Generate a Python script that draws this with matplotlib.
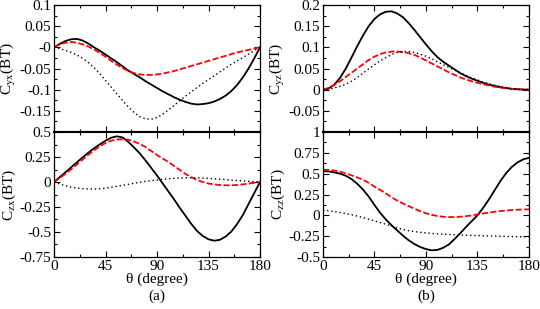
import numpy as np
import matplotlib
matplotlib.use("Agg")
import matplotlib.pyplot as plt
from matplotlib.ticker import MultipleLocator, FixedLocator

plt.rcParams['font.family'] = ['Liberation Serif', 'DejaVu Serif']
plt.rcParams['mathtext.fontset'] = 'stix'
plt.rcParams['font.size'] = 11

theta = np.arange(0, 181, 5)

# (a) top: C_yx
cyx_solid = [0, 0.008, 0.015, 0.019, 0.020, 0.016, 0.009, 0.0, -0.008, -0.017,
             -0.026, -0.035, -0.045, -0.055, -0.063, -0.071, -0.080, -0.088, -0.096,
             -0.104, -0.111, -0.118, -0.124, -0.129, -0.133, -0.135, -0.134, -0.132,
             -0.128, -0.122, -0.114, -0.103, -0.089, -0.071, -0.050, -0.026, 0]
cyx_dash = [0, 0.007, 0.011, 0.0125, 0.011, 0.007, 0.002, -0.005, -0.013, -0.022,
            -0.032, -0.041, -0.049, -0.056, -0.061, -0.064, -0.065, -0.065, -0.064,
            -0.062, -0.059, -0.056, -0.052, -0.048, -0.044, -0.040, -0.036, -0.032,
            -0.028, -0.024, -0.020, -0.016, -0.012, -0.009, -0.006, -0.003, 0]
cyx_dot = [0, -0.003, -0.007, -0.012, -0.018, -0.026, -0.036, -0.048, -0.062, -0.078,
           -0.094, -0.110, -0.126, -0.141, -0.154, -0.164, -0.169, -0.170, -0.166,
           -0.158, -0.148, -0.137, -0.126, -0.115, -0.105, -0.095, -0.085, -0.076,
           -0.067, -0.058, -0.049, -0.040, -0.032, -0.024, -0.016, -0.008, 0]

# (a) bottom: C_zx
czx_solid = [0, 0.048, 0.097, 0.147, 0.197, 0.246, 0.293, 0.337, 0.376, 0.413,
             0.443, 0.457, 0.445, 0.40, 0.345, 0.285, 0.215, 0.14, 0.065,
             -0.015, -0.095, -0.175, -0.26, -0.34, -0.42, -0.49, -0.54, -0.573,
             -0.587, -0.578, -0.545, -0.495, -0.42, -0.33, -0.22, -0.11, 0]
czx_dash = [0, 0.040, 0.082, 0.127, 0.175, 0.225, 0.272, 0.317, 0.357, 0.39,
            0.413, 0.425, 0.427, 0.423, 0.405, 0.38, 0.35, 0.31, 0.27,
            0.235, 0.20, 0.16, 0.12, 0.08, 0.048, 0.02, 0.0, -0.015,
            -0.024, -0.030, -0.033, -0.033, -0.030, -0.024, -0.016, -0.008, 0]
czx_dot = [0, -0.02, -0.037, -0.052, -0.061, -0.067, -0.07, -0.07, -0.067, -0.062,
           -0.052, -0.043, -0.034, -0.023, -0.012, -0.002, 0.006, 0.013, 0.019,
           0.026, 0.032, 0.037, 0.040, 0.042, 0.042, 0.041, 0.039, 0.036,
           0.032, 0.028, 0.024, 0.019, 0.015, 0.011, 0.007, 0.003, 0]

# (b) top: C_yz
cyz_solid = [0, 0.003, 0.012, 0.028, 0.050, 0.076, 0.103, 0.128, 0.150, 0.167,
             0.178, 0.184, 0.185, 0.180, 0.171, 0.157, 0.141, 0.124, 0.107,
             0.091, 0.077, 0.066, 0.057, 0.048, 0.039, 0.032, 0.026, 0.021,
             0.016, 0.012, 0.009, 0.006, 0.004, 0.002, 0.001, 0.0003, 0]
cyz_dash = [0, 0.004, 0.011, 0.020, 0.030, 0.040, 0.050, 0.060, 0.070, 0.078,
            0.084, 0.088, 0.090, 0.090, 0.089, 0.086, 0.082, 0.076, 0.069,
            0.062, 0.055, 0.048, 0.041, 0.035, 0.029, 0.024, 0.020, 0.016,
            0.013, 0.010, 0.007, 0.005, 0.003, 0.002, 0.001, 0.0003, 0]
cyz_dot = [0, 0.001, 0.004, 0.008, 0.013, 0.020, 0.029, 0.039, 0.049, 0.059,
           0.068, 0.076, 0.083, 0.088, 0.090, 0.090, 0.088, 0.084, 0.079,
           0.073, 0.066, 0.059, 0.053, 0.046, 0.040, 0.034, 0.028, 0.023,
           0.018, 0.014, 0.010, 0.007, 0.004, 0.002, 0.001, 0.0003, 0]

# (b) bottom: C_zz
czz_solid = [0.53, 0.527, 0.515, 0.50, 0.475, 0.435, 0.378, 0.31, 0.225, 0.125,
             0.03, -0.05, -0.12, -0.182, -0.245, -0.30, -0.345, -0.38, -0.405,
             -0.42, -0.415, -0.39, -0.35, -0.285, -0.215, -0.14, -0.07, 0.0,
             0.09, 0.19, 0.30, 0.41, 0.505, 0.58, 0.635, 0.672, 0.69]
czz_dash = [0.548, 0.545, 0.537, 0.523, 0.503, 0.48, 0.455, 0.428, 0.39, 0.345,
            0.306, 0.263, 0.218, 0.176, 0.142, 0.11, 0.08, 0.05, 0.025,
            0.006, -0.008, -0.017, -0.021, -0.021, -0.017, -0.010, -0.001, 0.010,
            0.022, 0.033, 0.043, 0.051, 0.058, 0.063, 0.067, 0.070, 0.072]
czz_dot = [0.066, 0.056, 0.045, 0.034, 0.021, 0.007, -0.009, -0.027, -0.046, -0.066,
           -0.087, -0.107, -0.130, -0.152, -0.170, -0.184, -0.195, -0.204, -0.211,
           -0.217, -0.222, -0.226, -0.230, -0.233, -0.236, -0.239, -0.241, -0.243,
           -0.245, -0.247, -0.249, -0.251, -0.253, -0.255, -0.256, -0.257, -0.258]

fig = plt.figure(figsize=(5.4, 3.09), dpi=100)

panels = [
    # left, bottom, height, ylim, major step, is lower panel, curves, ylabel
    (0.100, 0.5728, 0.411, (-0.2, 0.1), 0.05, False, (cyx_solid, cyx_dash, cyx_dot), r'C$_\mathrm{yx}$(BT)'),
    (0.100, 0.1683, 0.4045, (-0.75, 0.5), 0.25, True, (czx_solid, czx_dash, czx_dot), r'C$_\mathrm{zx}$(BT)'),
    (0.598, 0.5728, 0.411, (-0.1, 0.2), 0.05, False, (cyz_solid, cyz_dash, cyz_dot), r'C$_\mathrm{yz}$(BT)'),
    (0.598, 0.1683, 0.4045, (-0.5, 1.0), 0.25, True, (czz_solid, czz_dash, czz_dot), r'C$_\mathrm{zz}$(BT)'),
]

for left, bottom, height, ylim, major, lower, data, ylab in panels:
    ax = fig.add_axes([left, bottom, 0.3815, height])
    solid, dash, dot = data
    ax.plot(theta, solid, color='black', lw=1.3)
    ax.plot(theta, dash, color='#ff0000', lw=1.3, dashes=(3.4, 1.3))
    ax.plot(theta, dot, color='black', lw=1.0, dashes=(1, 2.0))
    ax.set_xlim(0, 180)
    ax.set_ylim(*ylim)
    ax.xaxis.set_major_locator(MultipleLocator(45))
    ax.xaxis.set_minor_locator(MultipleLocator(22.5))
    ticks = np.arange(ylim[0], ylim[1] + major / 2, major)
    ax.yaxis.set_major_locator(FixedLocator(ticks))
    ax.yaxis.set_minor_locator(FixedLocator(ticks[:-1] + major / 2))
    ax.yaxis.set_major_formatter(plt.FuncFormatter(lambda v, p: '%g' % round(v, 3)))
    ax.tick_params(which='both', direction='in', top=True, right=True, width=0.8)
    ax.tick_params(which='major', length=4.5, pad=2)
    ax.tick_params(which='minor', length=2.5)
    for s in ax.spines.values():
        s.set_linewidth(0.9)
    if lower:
        ax.set_xlabel(u'\u03b8 (degree)', labelpad=0)
        ax.spines['top'].set_linewidth(1.5)
    else:
        ax.tick_params(axis='x', labelbottom=False)
        ax.yaxis.get_major_ticks()[0].label1.set_visible(False)
        ax.spines['bottom'].set_linewidth(1.5)
    ax.set_ylabel(ylab, labelpad=1)

fig.text(0.100 + 0.3815 / 2, 0.04, '(a)', ha='center', va='center')
fig.text(0.598 + 0.3815 / 2, 0.04, '(b)', ha='center', va='center')

fig.savefig('out.png', dpi=100)
